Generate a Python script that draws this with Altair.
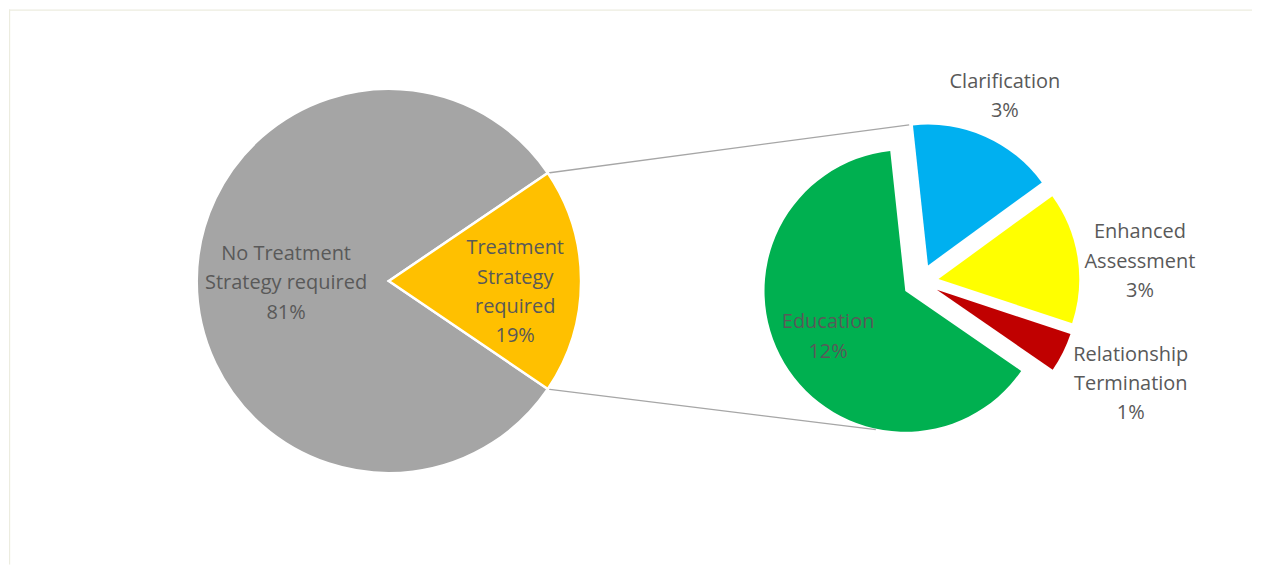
import math
import altair as alt
import pandas as pd

# ---------------- data ----------------
main_names = ["No Treatment\nStrategy required", "Treatment\nStrategy\nrequired"]
main_values = [81.0, 19.0]
main_pct = ["81%", "19%"]

sub_names = ["Education", "Clarification", "Enhanced\nAssessment", "Relationship\nTermination"]
sub_values = [12.1, 3.17, 2.87, 0.86]
sub_pct = ["12%", "3%", "3%", "1%"]

# ---------------- styles / layout ----------------
main_colors = ["#A5A5A5", "#FFC000"]
sub_colors = ["#00B050", "#00B0F0", "#FFFF00", "#C00000"]

W, H = 1245, 556
L_CX, L_CY, L_R = 380.5, 272.0, 192.5
R_CX, R_CY, R_R = 913.2, 272.8, 141.0
R_START = 124.6                      # start angle of second pie (deg, clockwise from 12 o'clock)
MAIN_EXPLODE = [0, 0]
SUB_EXPLODE = [18, 18, 18, 18]
MAIN_LABEL = [(103, -1.4), (127, 5.1)]             # (radius, angle shift)
SUB_LABEL = [(108, 0), (204, 0.5), (220.5, 3.6), (234, -0.5)]
BOTTOM_CONNECT_ANGLE = 192.0
TEXT_COLOR = "#595959"
FONT = "Open Sans"
FONT_SIZE = 20
LINE_H = 29.5


def build(names, values, pct, colors, cx, cy, start_deg, explode, label_geo):
    total = sum(values)
    rows = []
    acc = 0.0
    for i, (n, v, p, c) in enumerate(zip(names, values, pct, colors)):
        mid_deg = start_deg + (acc + v / 2) / total * 360
        e = explode[i]
        ox = cx + e * math.sin(math.radians(mid_deg))
        oy = cy - e * math.cos(math.radians(mid_deg))
        lr, ls = label_geo[i]
        la = math.radians(mid_deg + ls)
        text = n + "\n" + p
        nlines = text.count("\n") + 1
        rows.append(dict(name=n, value=v, v0=acc, v1=acc + v, label=text,
                         color=c, cx=ox, cy=oy,
                         lx=cx + lr * math.sin(la),
                         ly=cy - lr * math.cos(la) - (nlines - 1) * LINE_H / 2))
        acc += v
    return pd.DataFrame(rows), total


main_start = 90 + main_values[1] / sum(main_values) * 180
main_df, main_total = build(main_names, main_values, main_pct, main_colors,
                            L_CX, L_CY, main_start, MAIN_EXPLODE, MAIN_LABEL)
sub_df, sub_total = build(sub_names, sub_values, sub_pct, sub_colors,
                          R_CX, R_CY, R_START, SUB_EXPLODE, SUB_LABEL)


def pie(df, total, start_deg, radius, stroke_w):
    a0 = math.radians(start_deg)
    return alt.Chart(df).mark_arc(radius=radius, stroke="white", strokeWidth=stroke_w).encode(
        theta=alt.Theta("v0:Q", scale=alt.Scale(domain=[0, total], range=[a0, a0 + 2 * math.pi])),
        theta2="v1:Q",
        color=alt.Color("color:N", scale=None),
        x=alt.X("cx:Q", scale=None),
        y=alt.Y("cy:Q", scale=None),
    )


def labels(df):
    return alt.Chart(df).mark_text(
        lineBreak="\n", align="center", baseline="middle", font=FONT,
        fontSize=FONT_SIZE, lineHeight=LINE_H, color=TEXT_COLOR
    ).encode(
        x=alt.X("lx:Q", scale=None),
        y=alt.Y("ly:Q", scale=None),
        text="label:N",
    )


# connector lines between the two pies
split = main_values[1] / sum(main_values) * 180
top_l = math.radians(90 - split)
bot_l = math.radians(90 + split)
clar = sub_df.iloc[1]
clar_start = math.radians(R_START + sub_df.iloc[0]["v1"] / sub_total * 360 - 1.5)
edu = sub_df.iloc[0]
bot_r = math.radians(BOTTOM_CONNECT_ANGLE)
conn_df = pd.DataFrame({
    "x": [L_CX + L_R * math.sin(top_l), L_CX + L_R * math.sin(bot_l)],
    "y": [L_CY - L_R * math.cos(top_l), L_CY - L_R * math.cos(bot_l)],
    "x2": [clar["cx"] + (R_R + 1) * math.sin(clar_start), edu["cx"] + (R_R + 1) * math.sin(bot_r)],
    "y2": [clar["cy"] - (R_R + 1) * math.cos(clar_start), edu["cy"] - (R_R + 1) * math.cos(bot_r)],
})
connectors = alt.Chart(conn_df).mark_rule(color="#A6A6A6", strokeWidth=1.3).encode(
    x=alt.X("x:Q", scale=None), y=alt.Y("y:Q", scale=None),
    x2="x2:Q", y2="y2:Q",
)

one = pd.DataFrame({"k": [0]})
border_left = alt.Chart(one).mark_rule(color="#ECECDF", strokeWidth=1.2).encode(
    x=alt.value(0.6), y=alt.value(0), y2=alt.value(H))
border_top = alt.Chart(one).mark_rule(color="#ECECDF", strokeWidth=1.2).encode(
    x=alt.value(0), x2=alt.value(W), y=alt.value(0.6))

main_layer = alt.layer(pie(main_df, main_total, main_start, L_R, 2.5), labels(main_df))
sub_layer = alt.layer(pie(sub_df, sub_total, R_START, R_R, 0), labels(sub_df))

chart = alt.layer(
    border_left, border_top,
    connectors,
    main_layer,
    sub_layer,
).resolve_scale(theta="independent").properties(
    width=W, height=H, padding=0, background="white"
).configure_view(strokeWidth=0)

chart.save("out.html", embed_options={"renderer": "svg", "actions": False})
